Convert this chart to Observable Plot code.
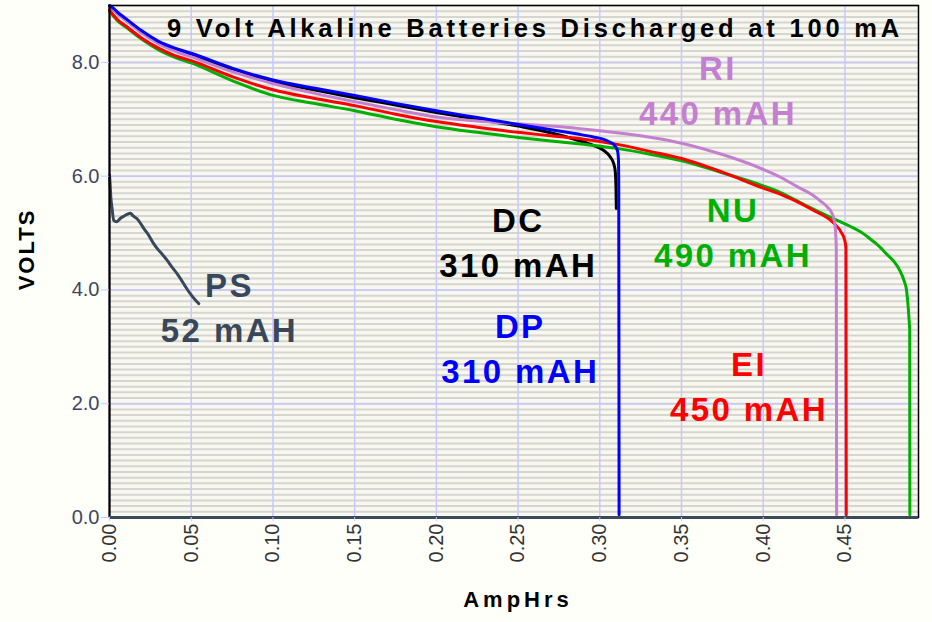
<!DOCTYPE html>
<html>
<head>
<meta charset="utf-8">
<script src="https://cdn.jsdelivr.net/npm/d3@7"></script>
<script src="https://cdn.jsdelivr.net/npm/@observablehq/plot@0.6"></script>
<style>
  html, body { margin: 0; padding: 0; background: #fffffa; }
  #chart { width: 932px; height: 622px; }
</style>
</head>
<body>
<div id="chart"></div>
<script>
// ---- Data: [AmpHrs, Volts] ----
const DP = [[0,9.0],[0.0025,8.95],[0.005,8.88],[0.01,8.77],[0.02,8.55],[0.03,8.37],[0.04,8.25],[0.05,8.16],[0.075,7.9],[0.10,7.69],[0.125,7.55],[0.15,7.42],[0.175,7.28],[0.20,7.15],[0.225,7.03],[0.25,6.91],[0.276,6.79],[0.2865,6.74],[0.296,6.69],[0.302,6.65],[0.306,6.6],[0.309,6.54],[0.3108,6.45],[0.3114,6.3],[0.3116,5.8],[0.3118,0.05]];
const DC = [[0,8.99],[0.0025,8.93],[0.005,8.86],[0.01,8.75],[0.02,8.53],[0.03,8.35],[0.04,8.23],[0.05,8.13],[0.075,7.88],[0.10,7.66],[0.125,7.52],[0.15,7.38],[0.175,7.25],[0.20,7.12],[0.225,7.0],[0.25,6.88],[0.276,6.72],[0.2865,6.63],[0.296,6.54],[0.302,6.46],[0.3063,6.34],[0.3085,6.22],[0.3094,6.1],[0.3099,5.8],[0.3101,5.43]];
const RI = [[0,9.0],[0.0025,8.93],[0.005,8.85],[0.01,8.74],[0.02,8.51],[0.03,8.33],[0.04,8.2],[0.05,8.1],[0.075,7.84],[0.10,7.63],[0.125,7.46],[0.15,7.31],[0.175,7.17],[0.20,7.04],[0.225,6.97],[0.25,6.92],[0.27,6.88],[0.2865,6.84],[0.30,6.8],[0.325,6.71],[0.35,6.58],[0.375,6.38],[0.40,6.12],[0.41,5.99],[0.4205,5.82],[0.4295,5.68],[0.4347,5.57],[0.4395,5.45],[0.4418,5.36],[0.4435,5.22],[0.4443,5.0],[0.4447,4.7],[0.4449,0.05]];
const EI = [[0,8.92],[0.0025,8.83],[0.005,8.75],[0.01,8.64],[0.02,8.42],[0.03,8.25],[0.04,8.12],[0.05,8.03],[0.075,7.75],[0.10,7.52],[0.125,7.37],[0.15,7.24],[0.175,7.09],[0.20,6.96],[0.225,6.86],[0.25,6.77],[0.27,6.71],[0.29,6.65],[0.3124,6.55],[0.33,6.44],[0.35,6.31],[0.375,6.07],[0.40,5.79],[0.41,5.69],[0.42,5.56],[0.4306,5.4],[0.4429,5.18],[0.448,5.0],[0.4498,4.88],[0.4506,4.74],[0.4508,0.05]];
const NU = [[0,8.9],[0.0025,8.81],[0.005,8.73],[0.01,8.62],[0.02,8.4],[0.03,8.22],[0.04,8.09],[0.05,7.99],[0.075,7.68],[0.10,7.42],[0.125,7.28],[0.15,7.15],[0.175,7.0],[0.20,6.87],[0.225,6.77],[0.25,6.68],[0.27,6.62],[0.29,6.56],[0.3124,6.48],[0.33,6.39],[0.35,6.27],[0.375,6.06],[0.40,5.83],[0.41,5.72],[0.425,5.5],[0.4439,5.24],[0.4530,5.12],[0.4612,4.99],[0.4653,4.9],[0.4705,4.78],[0.4755,4.63],[0.48,4.5],[0.4836,4.34],[0.4862,4.16],[0.4877,3.99],[0.4887,3.7],[0.4893,3.45],[0.4896,3.3],[0.4897,0.05]];
const PS = [[0,6.02],[0.0004,5.85],[0.0008,5.63],[0.0015,5.45],[0.0026,5.22],[0.0045,5.2],[0.0067,5.26],[0.009,5.3],[0.0128,5.35],[0.0145,5.3],[0.0169,5.25],[0.019,5.17],[0.021,5.08],[0.024,4.96],[0.0271,4.81],[0.030,4.7],[0.0325,4.62],[0.0353,4.52],[0.038,4.41],[0.041,4.3],[0.0434,4.2],[0.046,4.08],[0.0495,3.93],[0.052,3.84],[0.0546,3.76]];

const seriesNames  = ["PS", "DC", "NU", "EI", "RI", "DP"];
const seriesData   = [PS, DC, NU, EI, RI, DP];
const seriesColors = ["#38485a", "#000000", "#00b000", "#ff0000", "#c47fd0", "#0000ff"];

// annotation text and anchors (AmpHrs, Volts of the lower line's baseline)
const labelNames  = ["RI", "DC", "NU", "PS", "DP", "EI"];
const labelCaps   = ["440 mAH", "310 mAH", "490 mAH", "52 mAH", "310 mAH", "450 mAH"];
const labelColors = ["#c47fd0", "#000000", "#00b000", "#38485a", "#0000ff", "#ff0000"];
const labelAmp    = [0.3723, 0.2501, 0.3815, 0.0734, 0.2513, 0.3913];
const labelVolt   = [6.90, 4.22, 4.40, 3.08, 2.36, 1.69];

const xTicks = [0, 0.05, 0.10, 0.15, 0.20, 0.25, 0.30, 0.35, 0.40, 0.45];
const yTicks = [0, 2, 4, 6, 8];
const yMinor = d3.range(1, 91).map(i => i / 10);

const titleText = "9 Volt Alkaline Batteries Discharged at 100 mA";
const xLabel = "AmpHrs";
const yLabel = "VOLTS";

// ---- Build ----
const rows = seriesData.flatMap((s, i) => s.map(([a, v]) => ({series: seriesNames[i], amp: a, volt: v})));
const labels = labelNames.map((n, i) => ({text: n + "\n" + labelCaps[i], color: labelColors[i], amp: labelAmp[i], volt: labelVolt[i]}));

const boldFont = "'Liberation Sans', Arial, sans-serif";

const chart = Plot.plot({
  width: 932,
  height: 622,
  marginLeft: 109,
  marginRight: 14,
  marginTop: 5,
  marginBottom: 105,
  style: {background: "#fffffa", fontFamily: "'Liberation Sans', Arial, sans-serif", overflow: "visible"},
  x: {domain: [0, 0.495], label: null, axis: null},
  y: {domain: [0, 9], label: null, axis: null},
  color: {domain: seriesNames, range: seriesColors},
  marks: [
    Plot.frame({fill: "#f8f8f0", stroke: null}),
    Plot.gridY(yMinor, {stroke: "#d6d6d0", strokeOpacity: 1, strokeWidth: 2}),
    Plot.gridX(xTicks, {stroke: "#c8c8ff", strokeOpacity: 1, strokeWidth: 1.5}),
    Plot.gridY(yTicks, {stroke: "#c8c8ff", strokeOpacity: 1, strokeWidth: 1.5}),
    Plot.line(rows, {x: "amp", y: "volt", z: "series", stroke: "series", strokeWidth: 3, curve: "monotone-x"}),
    Plot.frame({stroke: "#000", strokeWidth: 1.5}),
    Plot.ruleX([0], {stroke: "#000", strokeWidth: 2}),
    Plot.ruleY([0], {stroke: "#3a4a5a", strokeWidth: 3}),
    Plot.axisY(yTicks, {tickSize: 8, tickPadding: 2, stroke: "#c8c8ff", fill: "#3c4660", fontSize: 20, tickFormat: d => d.toFixed(1), label: null}),
    Plot.axisX(xTicks, {tickSize: 4, tickPadding: 2, tickRotate: -90, stroke: "#c8c8ff", fill: "#333", fontSize: 20, tickFormat: d => d.toFixed(2), label: null}),
    Plot.text(labels, {x: "amp", y: "volt", text: "text", fill: "color", fontSize: 33, fontWeight: "bold", textAnchor: "middle", lineAnchor: "bottom", lineHeight: 1.37, fontFamily: boldFont}),
    Plot.text([titleText], {frameAnchor: "top", dx: 21, dy: 31.5, textAnchor: "middle", lineAnchor: "bottom", fontSize: 25.5, fontWeight: "bold", fill: "#000", fontFamily: boldFont}),
    Plot.text([xLabel], {frameAnchor: "bottom", dx: 4, dy: 89, textAnchor: "middle", lineAnchor: "bottom", fontSize: 22, fontWeight: "bold", fill: "#000", fontFamily: boldFont}),
    Plot.text([yLabel], {frameAnchor: "left", dx: -76, dy: -12, rotate: -90, textAnchor: "middle", lineAnchor: "bottom", fontSize: 22, fontWeight: "bold", fill: "#000", fontFamily: boldFont})
  ]
});

document.getElementById("chart").appendChild(chart);
// letter spacing for the bold texts (annotations, title, axis labels), in mark order
const spacing = ["2.4px", "3.8px", "4px", "2px"];
d3.select(chart).selectAll('g[aria-label="text"]').each(function(_, i) {
  d3.select(this).selectAll("text").style("letter-spacing", spacing[i] || null);
});
</script>
</body>
</html>
